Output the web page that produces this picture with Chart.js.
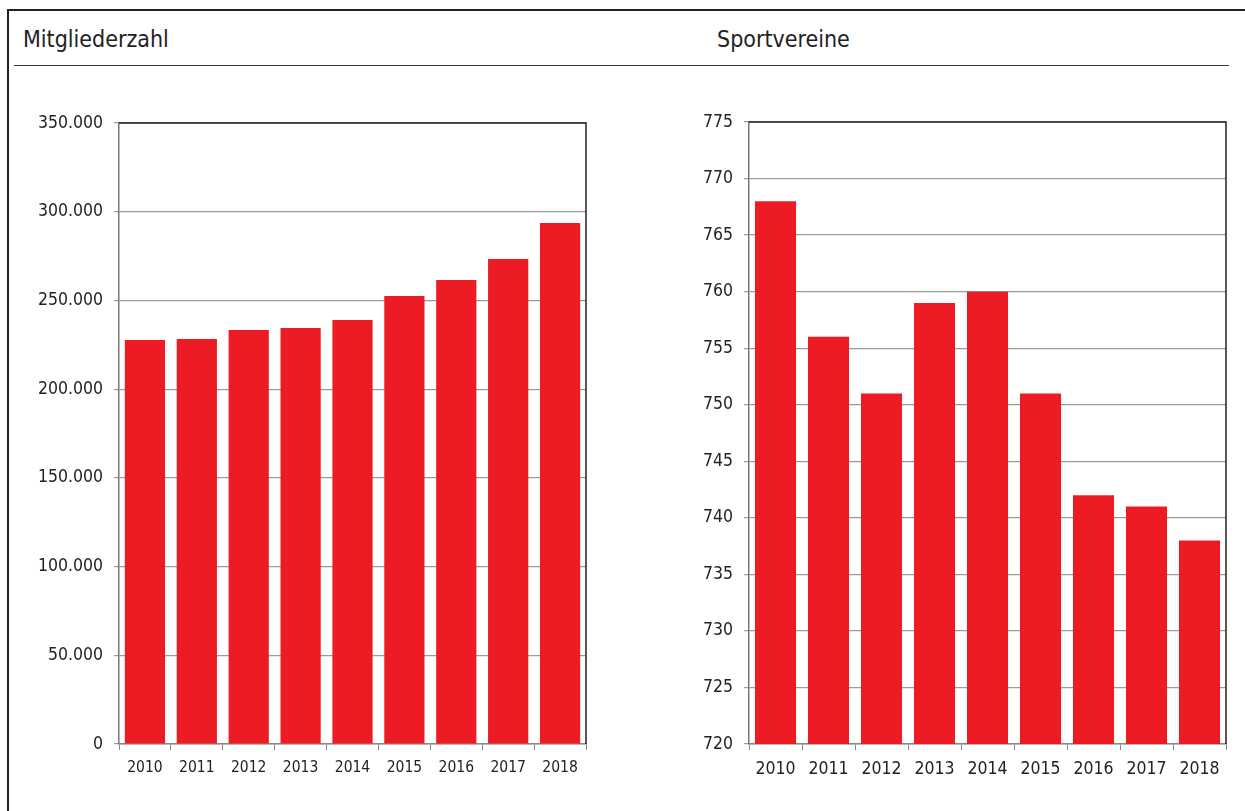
<!DOCTYPE html>
<html>
<head>
<meta charset="utf-8">
<script src="https://cdn.jsdelivr.net/npm/chart.js@4"></script>
<style>
  body { margin: 0; background: #fff; width: 1245px; height: 811px; overflow: hidden; position: relative; }
  .frame { position: absolute; left: 7px; top: 9px; width: 1250px; height: 820px; border-left: 2px solid #222; border-top: 2px solid #222; }
  .rule { position: absolute; left: 14px; top: 65px; width: 1215px; height: 1px; background: #333; }
  .title { position: absolute; top: 26px; font-family: 'DejaVu Sans Condensed', sans-serif; font-size: 23px; color: #222; }
  .box { position: absolute; top: 100px; height: 700px; }
</style>
</head>
<body>
<div class="frame"></div>
<div class="rule"></div>
<div class="title" style="left:23px">Mitgliederzahl</div>
<div class="title" style="left:717px">Sportvereine</div>
<div class="box" style="left:0;width:600px"><canvas id="members"></canvas></div>
<div class="box" style="left:620px;width:620px"><canvas id="clubs"></canvas></div>
<script>
// data
const years = ['2010', '2011', '2012', '2013', '2014', '2015', '2016', '2017', '2018'];
const members = [227700, 228300, 233300, 234500, 239000, 252500, 261500, 273400, 293600];
const clubs = [768, 756, 751, 759, 760, 751, 742, 741, 738];

const red = '#ED1C24';
const fontFamily = "'DejaVu Sans Condensed', sans-serif";

// thousands with a dot, German style
function dotted(v) {
    return String(v).replace(/\B(?=(\d{3})+(?!\d))/g, '.');
}

// top and right edge of the plot area
const frameLines = {
    id: 'frameLines',
    afterDraw(chart) {
        const a = chart.chartArea;
        const c = chart.ctx;
        c.save();
        c.strokeStyle = '#222';
        c.lineWidth = 1.5;
        c.beginPath();
        c.moveTo(a.left, a.top);
        c.lineTo(a.right, a.top);
        c.lineTo(a.right, a.bottom);
        c.stroke();
        c.restore();
    }
};

function makeChart(id, values, min, max, step, yWidth, padTop, xSize, fmt) {
    new Chart(document.getElementById(id), {
        type: 'bar',
        data: {
            labels: years,
            datasets: [{
                data: values,
                backgroundColor: red,
                categoryPercentage: 1,
                barPercentage: 0.775
            }]
        },
        options: {
            responsive: true,
            maintainAspectRatio: false,
            animation: false,
            layout: { padding: { top: padTop, right: 14, left: 0, bottom: 0 } },
            plugins: {
                legend: { display: false },
                tooltip: { enabled: false }
            },
            scales: {
                x: {
                    afterFit: s => { s.height = 56; },
                    grid: { drawOnChartArea: false, drawTicks: true, tickLength: 6, color: '#888' },
                    border: { color: '#888', width: 1.5 },
                    ticks: { color: '#222', padding: 9, font: { family: fontFamily, size: xSize } }
                },
                y: {
                    min: min,
                    max: max,
                    afterFit: s => { s.width = yWidth; },
                    grid: { color: '#9a9a9a', lineWidth: 1.2, tickLength: 5 },
                    border: { color: '#777', width: 1.5 },
                    ticks: {
                        stepSize: step,
                        color: '#222',
                        padding: 11,
                        font: { family: fontFamily, size: 17.5 },
                        callback: fmt
                    }
                }
            }
        },
        plugins: [frameLines]
    });
}

makeChart('members', members, 0, 350000, 50000, 119, 23, 15.5, v => dotted(v));
makeChart('clubs', clubs, 720, 775, 5, 129, 22, 17.5, v => String(v));
</script>
</body>
</html>
